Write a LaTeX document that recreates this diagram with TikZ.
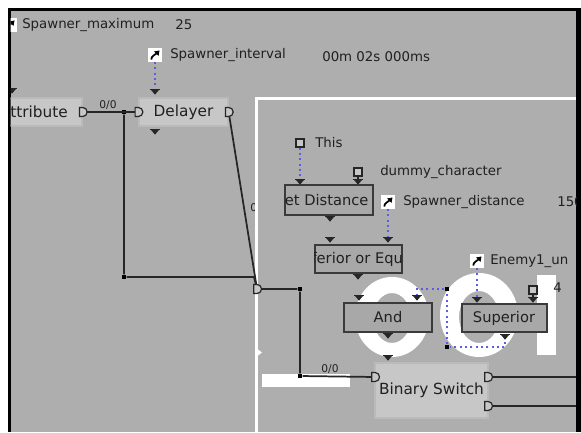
\documentclass[tikz,border=0pt]{standalone}
\usepackage{fontspec}
\setmainfont{DejaVu Sans}
\usetikzlibrary{arrows.meta}
\definecolor{panelgray}{RGB}{174,174,174}
\definecolor{boxlight}{RGB}{199,199,199}
\definecolor{boxedge}{RGB}{186,186,186}
\definecolor{selfill}{RGB}{168,168,168}
\definecolor{seledge}{RGB}{58,58,58}
\definecolor{wiredark}{RGB}{38,38,38}
\definecolor{linkblue}{RGB}{92,92,232}
\definecolor{inkgray}{RGB}{32,32,32}

\tikzset{
  pinmark/.pic={\fill[wiredark] (-3.2pt,1.8pt) -- (3.2pt,1.8pt) -- (0,-2pt) -- cycle;
    \draw[wiredark, line width=.5pt] (-3.4pt,2.3pt) -- (3.4pt,2.3pt);},
  sockport/.pic={\draw[wiredark, line width=.9pt, fill=boxlight] (-2.4pt,-3.4pt) -- (0,-3.4pt)
    arc[start angle=-90, end angle=90, radius=3.4pt] -- (-2.4pt,3.4pt) -- cycle;}
}

\begin{document}
\begin{tikzpicture}[x=0.75pt, y=-0.75pt,
    lightbox/.style={draw=boxedge, fill=boxlight, line width=1pt, inner sep=0pt, text=inkgray, font=\fontsize{11.5}{13}\selectfont},
    selbox/.style={draw=seledge, fill=selfill, line width=1.5pt, inner sep=0pt},
    boxtext/.style={inner sep=0pt, text=inkgray, font=\fontsize{11}{13}\selectfont},
    tagtext/.style={anchor=west, inner sep=0pt, text=inkgray, font=\fontsize{10}{12}\selectfont},
    wiretag/.style={inner sep=0pt, text=inkgray, font=\fontsize{8}{9}\selectfont},
    wire/.style={wiredark, line width=1.3pt},
    varlink/.style={linkblue, line width=1.2pt, dash pattern=on 1.5pt off 2.5pt},
    jointdot/.style={fill=black, inner sep=0pt, minimum size=3.6pt},
    varicon/.style={draw=wiredark, fill=boxlight, line width=.8pt, inner sep=0pt, minimum size=6pt},
    linkicon/.style={fill=white, inner sep=0pt, minimum size=10pt, path picture={
        \draw[black, line width=1.3pt, -{Triangle[length=3.4pt,width=4.4pt]}]
          ([shift={(-2.8pt,-3.4pt)}]path picture bounding box.center)
          .. controls ([shift={(-2.8pt,-0.6pt)}]path picture bounding box.center)
          and ([shift={(0pt,0pt)}]path picture bounding box.center)
          .. ([shift={(3.4pt,3.4pt)}]path picture bounding box.center);}}
  ]
  \useasboundingbox (0,0) rectangle (581,432);
  \fill[white] (0,0) rectangle (581,432);
  \fill[black] (8,8) rectangle (581,432);
  \fill[panelgray] (10.5,10.5) rectangle (576,432);

  \begin{scope}
    \clip (10.5,10.5) rectangle (576,432);

    % big white letters behind the graph
    \fill[white, even odd rule] (392,317) ellipse [x radius=37, y radius=40]
      (392,318) ellipse [x radius=19, y radius=25];
    \fill[white, even odd rule] (479,315) ellipse [x radius=39, y radius=42]
      (479,317) ellipse [x radius=20, y radius=26];
    \fill[white] (537,275) rectangle (556,355);
    \fill[white] (262,374) rectangle (350,387);
    \fill[white] (256,348) -- (262,352.5) -- (256,357) -- cycle;

    % cut label on the slanted wire
    \begin{scope}
      \clip (240,195) rectangle (255.5,220);
      \node[wiretag, anchor=west] (slanttag) at (250,208) {0/0};
    \end{scope}

    % group frame
    \draw[white, line width=2pt] (256.5,432) -- (256.5,98.5) -- (576,98.5);

    % top variables
    \node[linkicon] (maxicon) at (10,25) {};
    \node[tagtext] (maxtag) at (22,25) {Spawner\_maximum};
    \node[tagtext] (maxval) at (175,25) {25};
    \node[linkicon] (ivlicon) at (155,55) {};
    \node[tagtext] (ivltag) at (170,55) {Spawner\_interval};
    \node[tagtext] (ivlval) at (322,57) {00m 02s 000ms};

    % left part
    \node[lightbox, minimum width=72pt, minimum height=21pt] (att) at (34,112) {Attribute};
    \node[lightbox, minimum width=66.75pt, minimum height=21pt] (delay) at (183.5,112) {Delayer};
    \coordinate (attout) at (att.east);
    \coordinate (delin) at (delay.west);
    \coordinate (delout) at (delay.east);
    \coordinate (delpin) at (155,92);
    \coordinate (gate) at (257,289);
    \coordinate (merge) at (254,277);
    \node[jointdot] (j1) at (124,112) {};
    \node[jointdot] (j2) at (124,277) {};
    \node[jointdot] (j3) at (300,289) {};
    \node[jointdot] (j4) at (300,376) {};
    \node[wiretag] (attwire) at (108,105) {0/0};
    \node[wiretag] (gatewire) at (330,369) {0/0};

    % condition nodes
    \node[selbox, minimum width=66pt, minimum height=22.5pt] (getdist) at (329,200) {};
    \node[selbox, minimum width=65.25pt, minimum height=21pt] (infeq) at (358.5,259) {};
    \node[selbox, minimum width=66pt, minimum height=21.75pt] (andgate) at (388,317.5) {};
    \node[selbox, minimum width=63.75pt, minimum height=21pt] (superior) at (504.5,318) {};
    \begin{scope}
      \clip (getdist.south west) rectangle (getdist.north east);
      \node[boxtext] (gdtext) at (321,200) {Get Distance};
    \end{scope}
    \begin{scope}
      \clip (infeq.south west) rectangle (infeq.north east);
      \node[boxtext] (ietext) at (357,259) {Inferior or Equal};
    \end{scope}
    \node[boxtext] (andtext) at (388,317.5) {And};
    \node[boxtext] (suptext) at (504,318) {Superior};

    \node[lightbox, minimum width=84.75pt, minimum height=41.25pt] (bswitch) at (431.5,390.5) {Binary Switch};
    \coordinate (bsin) at (375,377);
    \coordinate (bsout1) at (488,377);
    \coordinate (bsout2) at (488,406);
    \coordinate (edge1) at (580,377);
    \coordinate (edge2) at (580,406);

    % variables inside the group
    \node[varicon] (thisvar) at (300,143) {};
    \node[tagtext] (thistag) at (315,143) {This};
    \node[varicon] (dummyvar) at (358,172) {};
    \node[tagtext] (dummytag) at (380,172) {dummy\_character};
    \node[linkicon] (disticon) at (388,202) {};
    \node[tagtext] (disttag) at (403,202) {Spawner\_distance};
    \node[tagtext] (distval) at (557,202) {150};
    \node[linkicon] (enemyicon) at (477,261) {};
    \node[tagtext] (enemytag) at (490,261) {Enemy1\_un};
    \node[varicon] (fourvar) at (533,290) {};
    \node[tagtext] (fourtag) at (553,288) {4};

    \coordinate (gdin1) at (300,182);
    \coordinate (gdin2) at (358,182);
    \coordinate (iein2) at (388,240);
    \coordinate (andin2) at (417,298);
    \coordinate (supin1) at (477,300);
    \coordinate (supin2) at (533,300);
    \coordinate (supout) at (505,337);
    \node[jointdot] (b1) at (447,289) {};
    \node[jointdot] (b2) at (447,347) {};

    % wires
    \draw[wire] (attout) -- (delin);
    \draw[wire] (j1) -- (j2) -- (merge) -- (gate);
    \draw[wire] (delout) -- (gate);
    \draw[wire] (gate) -- (j3) -- (j4) -- (bsin);
    \draw[wire] (bsout1) -- (edge1);
    \draw[wire] (bsout2) -- (edge2);
    \draw[wiredark, line width=.8pt] (dummyvar) -- (gdin2);
    \draw[wiredark, line width=.8pt] (fourvar) -- (supin2);

    % variable links
    \draw[varlink] (ivlicon) -- (delpin);
    \draw[varlink] (thisvar) -- (gdin1);
    \draw[varlink] (disticon) -- (iein2);
    \draw[varlink] (enemyicon) -- (supin1);
    \draw[varlink] (supout) |- (b2) -- (b1) -| (andin2);

    % pins and sockets
    \foreach \x/\y in {12/91, 155/92, 155/132, 300/182, 358/182, 330/219,
        330/240, 388/240, 358/277, 359/298, 417/298, 388/336,
        477/300, 533/300, 505/337, 388/358}
      \pic at (\x,\y) {pinmark};
    \foreach \p in {attout, delin, delout, gate, bsin, bsout1, bsout2}
      \pic at (\p) {sockport};
  \end{scope}
\end{tikzpicture}
\end{document}
